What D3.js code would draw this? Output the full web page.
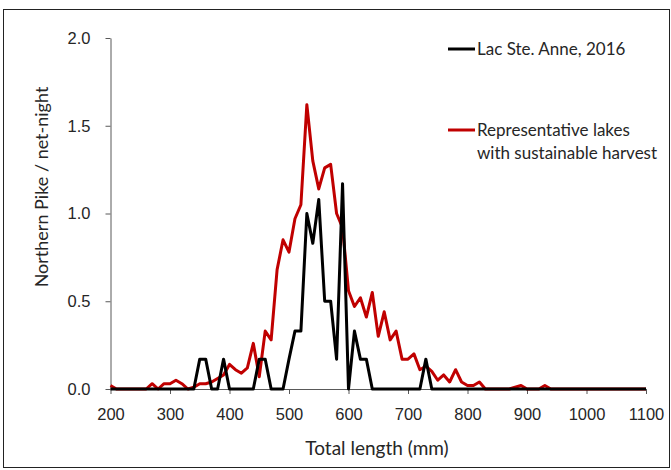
<!DOCTYPE html>
<html>
<head>
<meta charset="utf-8">
<title>Northern Pike length distribution</title>
<script src="https://d3js.org/d3.v7.min.js"></script>
<style>
  body { margin: 0; background: #fff; }
  svg { display: block; font-family: Lato, "Open Sans", sans-serif; }
</style>
</head>
<body>
<div id="chart"></div>
<script>
// total length bins (mm)
var lengths = [200, 210, 220, 230, 240, 250, 260, 270, 280, 290,
  300, 310, 320, 330, 340, 350, 360, 370, 380, 390,
  400, 410, 420, 430, 440, 450, 460, 470, 480, 490,
  500, 510, 520, 530, 540, 550, 560, 570, 580, 590,
  600, 610, 620, 630, 640, 650, 660, 670, 680, 690,
  700, 710, 720, 730, 740, 750, 760, 770, 780, 790,
  800, 810, 820, 830, 840, 850, 860, 870, 880, 890,
  900, 910, 920, 930, 940, 950, 960, 970, 980, 990,
  1000, 1010, 1020, 1030, 1040, 1050, 1060, 1070, 1080, 1090, 1100];

// Lac Ste. Anne, 2016
var lacSteAnne = [0, 0, 0, 0, 0, 0, 0, 0, 0, 0,
  0, 0, 0, 0, 0, 0.17, 0.17, 0, 0, 0.17,
  0, 0, 0, 0, 0, 0.17, 0.17, 0, 0, 0,
  0.17, 0.33, 0.33, 1.0, 0.83, 1.08, 0.5, 0.5, 0.17, 1.17,
  0, 0.33, 0.17, 0.17, 0, 0, 0, 0, 0, 0,
  0, 0, 0, 0.17, 0, 0, 0, 0, 0, 0,
  0, 0, 0, 0, 0, 0, 0, 0, 0, 0,
  0, 0, 0, 0, 0, 0, 0, 0, 0, 0,
  0, 0, 0, 0, 0, 0, 0, 0, 0, 0, 0];

// representative lakes with sustainable harvest
var representative = [0.02, 0, 0, 0, 0, 0, 0, 0.03, 0, 0.03,
  0.03, 0.05, 0.03, 0, 0.01, 0.03, 0.03, 0.04, 0.06, 0.08,
  0.14, 0.11, 0.09, 0.12, 0.26, 0.07, 0.33, 0.28, 0.68, 0.85,
  0.78, 0.97, 1.05, 1.62, 1.30, 1.14, 1.26, 1.28, 1.0, 0.92,
  0.56, 0.47, 0.52, 0.41, 0.55, 0.30, 0.44, 0.28, 0.33, 0.17,
  0.17, 0.20, 0.11, 0.13, 0.10, 0.05, 0.08, 0.04, 0.11, 0.04,
  0.02, 0.02, 0.04, 0, 0, 0, 0, 0, 0.01, 0.02,
  0, 0, 0, 0.02, 0, 0, 0, 0, 0, 0,
  0, 0, 0, 0, 0, 0, 0, 0, 0, 0, 0];

var xTicks = [200, 300, 400, 500, 600, 700, 800, 900, 1000, 1100];
var yTicks = [0, 0.5, 1.0, 1.5, 2.0];

var W = 671, H = 470;
var margin = {top: 38, right: 25, bottom: 81, left: 110.5};
var width = W - margin.left - margin.right,
    height = H - margin.top - margin.bottom;

var svg = d3.select("#chart").append("svg")
    .attr("width", W)
    .attr("height", H);

// outer frame
svg.append("rect")
    .attr("x", 3.5).attr("y", 9.5)
    .attr("width", 666).attr("height", 458)
    .attr("fill", "none")
    .attr("stroke", "#222")
    .attr("stroke-width", 1);

var g = svg.append("g")
    .attr("transform", "translate(" + margin.left + "," + margin.top + ")");

var x = d3.scaleLinear().domain([200, 1100]).range([0, width]);
var y = d3.scaleLinear().domain([0, 2]).range([height, 0]);

// axes
var xAxis = g.append("g")
    .attr("transform", "translate(0," + height + ")")
    .call(d3.axisBottom(x).tickValues(xTicks).tickFormat(d3.format("d"))
      .tickSize(5).tickPadding(14).tickSizeOuter(0));
var yAxis = g.append("g")
    .call(d3.axisLeft(y).tickValues(yTicks).tickFormat(d3.format(".1f"))
      .tickSize(5).tickPadding(15).tickSizeOuter(0));

[xAxis, yAxis].forEach(function(a) {
  a.select(".domain").attr("stroke", "#595959");
  a.selectAll(".tick line").attr("stroke", "#595959");
  a.selectAll(".tick text").attr("fill", "#262626").style("font-size", "16.5px");
});

// lines
var line = d3.line()
    .x(function(d, i) { return x(lengths[i]); })
    .y(function(d) { return y(d); });

g.append("path")
    .datum(representative)
    .attr("fill", "none")
    .attr("stroke", "#C00000")
    .attr("stroke-width", 3)
    .attr("stroke-linejoin", "round")
    .attr("d", line);

g.append("path")
    .datum(lacSteAnne)
    .attr("fill", "none")
    .attr("stroke", "#000")
    .attr("stroke-width", 3)
    .attr("stroke-linejoin", "round")
    .attr("d", line);

// axis titles
svg.append("text")
    .attr("x", 377).attr("y", 455)
    .attr("text-anchor", "middle")
    .attr("fill", "#262626")
    .style("font-size", "19px")
    .text("Total length (mm)");

svg.append("text")
    .attr("transform", "translate(48,187) rotate(-90)")
    .attr("text-anchor", "middle")
    .attr("fill", "#262626")
    .style("font-size", "18px")
    .text("Northern Pike / net-night");

// legend
var legend = [
  {lines: ["Lac Ste. Anne, 2016"], color: "#000", y: 49},
  {lines: ["Representative lakes", "with sustainable harvest"], color: "#C00000", y: 130}
];
legend.forEach(function(item) {
  svg.append("line")
      .attr("x1", 448).attr("x2", 475)
      .attr("y1", item.y).attr("y2", item.y)
      .attr("stroke", item.color)
      .attr("stroke-width", 3);
  item.lines.forEach(function(t, k) {
    svg.append("text")
        .attr("x", 477).attr("y", item.y + k * 23)
        .attr("dy", "0.35em")
        .attr("fill", "#262626")
        .style("font-size", "17px")
        .text(t);
  });
});
</script>
</body>
</html>
